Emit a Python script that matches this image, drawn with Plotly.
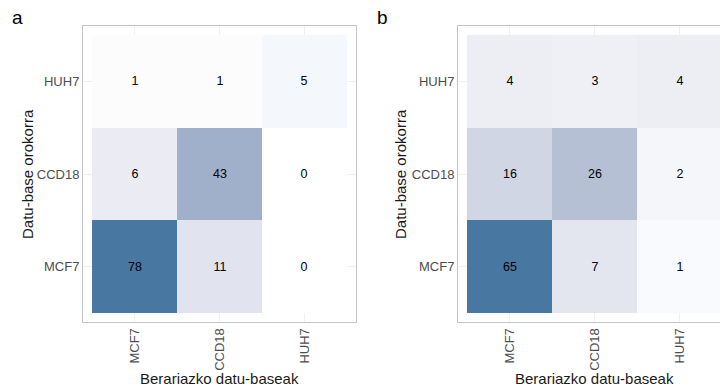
import plotly.graph_objects as go

# Data
x_labels = ["MCF7", "CCD18", "HUH7"]          # Berariazko datu-baseak
y_labels = ["MCF7", "CCD18", "HUH7"]          # Datu-base orokorra (bottom -> top)

# rows follow y_labels order (MCF7, CCD18, HUH7); columns follow x_labels
panel_a = [
    [78, 11, 0],
    [6, 43, 0],
    [1, 1, 5],
]
panel_b = [
    [65, 7, 1],
    [16, 26, 2],
    [4, 3, 4],
]

# colour stops (value -> colour)
colors_a = [(0, "#ffffff"), (1, "#fcfcfd"), (5, "#f4f7fb"), (6, "#ebecf3"),
            (11, "#e1e4ee"), (43, "#a0afca"), (78, "#4877a2")]
colors_b = [(0, "#ffffff"), (1, "#f9fafd"), (2, "#f5f6fa"), (3, "#eff0f5"),
            (4, "#edeef4"), (7, "#e3e6ef"), (16, "#d0d6e3"), (26, "#b5c0d5"),
            (65, "#4877a2")]


def scale(stops):
    mx = stops[-1][0]
    return [[v / mx, c] for v, c in stops]


FONT = "Liberation Sans, Arial, sans-serif"
W, H = 720, 387

fig = go.Figure()
fig.add_trace(go.Heatmap(
    x=x_labels, y=y_labels, z=panel_a, zmin=0, zmax=max(max(r) for r in panel_a),
    colorscale=scale(colors_a), showscale=False,
    texttemplate="%{z}", textfont=dict(size=12.5, color="#000000", family=FONT),
    xaxis="x", yaxis="y", hoverinfo="skip"))
fig.add_trace(go.Heatmap(
    x=x_labels, y=y_labels, z=panel_b, zmin=0, zmax=max(max(r) for r in panel_b),
    colorscale=scale(colors_b), showscale=False,
    texttemplate="%{z}", textfont=dict(size=12.5, color="#000000", family=FONT),
    xaxis="x2", yaxis="y2", hoverinfo="skip"))

def px_x(p):
    return p / W

def px_y(p):
    return 1 - p / H

top, bottom = 26, 322
ydom = [px_y(bottom), px_y(top)]

axis_common = dict(
    type="category", showline=True, linecolor="#c4c4c4", linewidth=1, mirror=True,
    ticks="",
    showgrid=True, gridcolor="#f0f0f0", gridwidth=1, zeroline=False,
    tickfont=dict(family=FONT, size=13, color="#4d4d4d"),
    fixedrange=True,
)

fig.update_layout(
    width=W, height=H, margin=dict(l=0, r=0, t=0, b=0),
    paper_bgcolor="white", plot_bgcolor="white",
    font=dict(family=FONT),
    xaxis=dict(axis_common, domain=[px_x(83), px_x(356)], anchor="y",
               categoryorder="array", categoryarray=x_labels,
               range=[-0.606, 2.606], tickangle=-90),
    yaxis=dict(axis_common, domain=ydom, anchor="x",
               categoryorder="array", categoryarray=y_labels,
               range=[-0.597, 2.597]),
    xaxis2=dict(axis_common, domain=[px_x(458), 1.0], anchor="y2",
                categoryorder="array", categoryarray=x_labels,
                range=[-0.606, 2.476], tickangle=-90),
    yaxis2=dict(axis_common, domain=ydom, anchor="x2",
                categoryorder="array", categoryarray=y_labels,
                range=[-0.597, 2.597]),
    showlegend=False,
)

ann = []
# panel labels
ann.append(dict(text="a", x=px_x(17), y=px_y(17), xref="paper", yref="paper",
                xanchor="center", yanchor="middle",
                showarrow=False, font=dict(size=19, color="#000000", family=FONT)))
ann.append(dict(text="b", x=px_x(382), y=px_y(17), xref="paper", yref="paper",
                xanchor="center", yanchor="middle",
                showarrow=False, font=dict(size=19, color="#000000", family=FONT)))
# axis titles
for cx, ycx in [((83 + 356) / 2, 27), ((458 + 731) / 2, 400)]:
    ann.append(dict(text="Berariazko datu-baseak", x=px_x(cx), y=px_y(378),
                    xref="paper", yref="paper", xanchor="center", yanchor="middle",
                    showarrow=False,
                    font=dict(size=15, color="#1a1a1a", family=FONT)))
    ann.append(dict(text="Datu-base orokorra", x=px_x(ycx), y=px_y((top + bottom) / 2),
                    xref="paper", yref="paper", xanchor="center", yanchor="middle",
                    showarrow=False, textangle=-90,
                    font=dict(size=15, color="#1a1a1a", family=FONT)))
fig.update_layout(annotations=ann)

fig.write_html("out.html", config={"displayModeBar": False},
               post_script="document.body.style.margin='0px';document.body.style.padding='0px';")
